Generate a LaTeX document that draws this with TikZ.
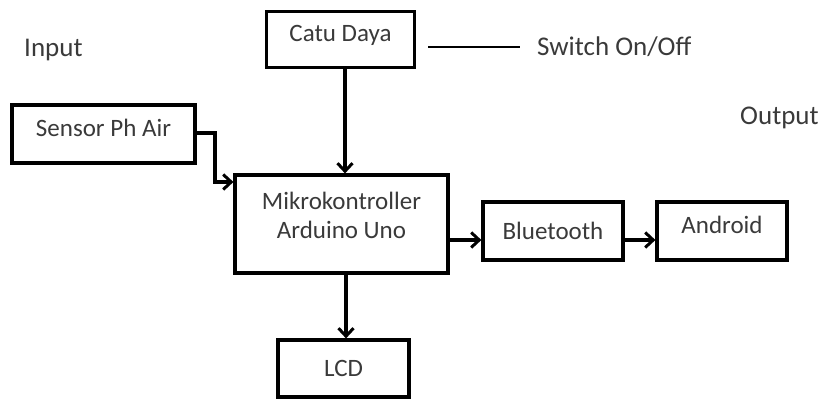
\documentclass[tikz,border=0pt]{standalone}
\usepackage{fontspec}
\setmainfont{Carlito}
\usetikzlibrary{arrows.meta}
\definecolor{txt}{HTML}{3A3A3A}
\begin{document}
\begin{tikzpicture}[x=1pt,y=-1pt,
  blk/.style={draw=black,line width=3.2pt,fill=white,text=txt,inner sep=0pt,font=\fontsize{25}{29}\selectfont},
  conn/.style={draw=black,line width=3.2pt,-{Straight Barb[length=8pt,width=15pt,line width=3pt]}},
  lbl/.style={text=txt,inner sep=0pt,font=\fontsize{27}{31}\selectfont}]
\useasboundingbox (0,0) rectangle (821,403);
\node[blk,minimum width=148pt,minimum height=56pt,text depth=12pt] (catu) at (340.5,39.5) {Catu Daya};
\node[blk,minimum width=183pt,minimum height=58pt,text depth=12pt] (sensor) at (103.5,134) {Sensor Ph Air};
\node[blk,minimum width=213pt,minimum height=98pt,align=center,text depth=18pt] (mikro) at (341.5,224) {Mikrokontroller\\Arduino Uno};
\node[blk,minimum width=140pt,minimum height=58pt] (bt) at (553,231) {Bluetooth};
\node[blk,minimum width=130pt,minimum height=58pt,text depth=12pt] (android) at (722,231) {Android};
\node[blk,minimum width=131pt,minimum height=57pt] (lcd) at (343.5,368.5) {LCD};
\node[lbl,anchor=west] (input) at (24,50) {Input};
\node[lbl,anchor=west] (output) at (740,118) {Output};
\node[lbl,anchor=west] (switch) at (537,47) {Switch On/Off};
\coordinate (swl) at (428,47);
\draw[line width=1.2pt] (swl) -- (520,47);
\draw[conn] (catu.south -| 345,0) -- (345,0 |- mikro.north);
\draw[conn] (sensor.east |- 0,133) -- (215,133) -- (215,182) -- (mikro.west |- 0,182);
\draw[conn] (mikro.east |- 0,240) -- (bt.west |- 0,240);
\draw[conn] (bt.east |- 0,240) -- (android.west |- 0,240);
\draw[conn] (mikro.south -| 346,0) -- (346,0 |- lcd.north);
\end{tikzpicture}
\end{document}
